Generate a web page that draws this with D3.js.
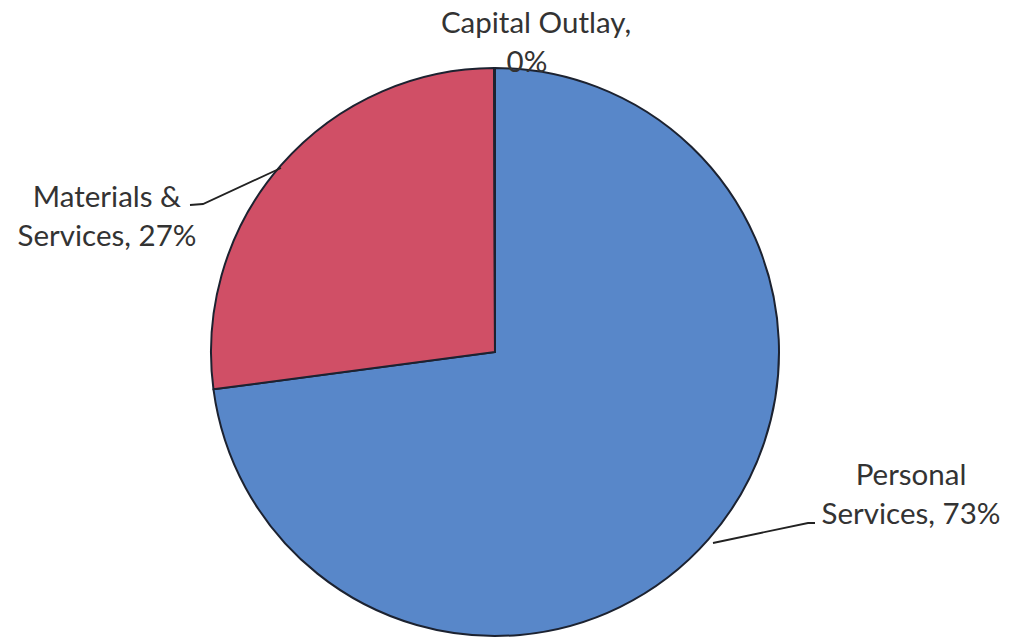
<!DOCTYPE html>
<html><head><meta charset="utf-8">
<script src="https://cdn.jsdelivr.net/npm/d3@7"></script>
<style>
html,body{margin:0;padding:0;background:#fff;}
svg text{font-family:Lato,"Open Sans",sans-serif;fill:#333;}
</style></head>
<body>
<svg id="chart" width="1010" height="643"></svg>
<script>
const categories = ["Personal Services", "Materials & Services", "Capital Outlay"];
const values = [72.9, 27.05, 0.05];
const labelLines = [["Personal", "Services, 73%"], ["Materials &", "Services, 27%"], ["Capital Outlay,", "0%"]];
const colors = ["#5887C9", "#D04F66", "#8FB35A"];

const svg = d3.select("#chart");
const cx = 495, cy = 352, r = 284;
const g = svg.append("g").attr("transform", `translate(${cx},${cy})`);

const pie = d3.pie().sort(null).value(d => d)(values);
const arc = d3.arc().innerRadius(0).outerRadius(r);

g.selectAll("path.slice").data(pie).join("path")
  .attr("class", "slice")
  .attr("d", arc)
  .attr("fill", (d, i) => colors[i])
  .attr("stroke", "#1c2230")
  .attr("stroke-width", 2)
  .attr("stroke-linejoin", "round");

// label layout (positions relative to the page)
const labelPos = [
  {x: 911, y: 485, lead: [[713, 543], [808, 523], [815, 523]]},
  {x: 107, y: 207, lead: [[190, 205], [203, 204], [281, 168]]},
  {x: 536, y: 33, lead: null}
];
const fs = 29.5, lh = 39;

labelPos.forEach((p, i) => {
  const t = svg.append("text").attr("text-anchor", "middle").attr("font-size", fs);
  labelLines[i].forEach((line, k) => {
    t.append("tspan").attr("x", i === 2 && k === 1 ? p.x - 9 : p.x).attr("y", p.y + k * lh).text(line);
  });
  if (p.lead) {
    svg.append("polyline")
      .attr("points", p.lead.map(q => q.join(",")).join(" "))
      .attr("fill", "none").attr("stroke", "#222").attr("stroke-width", 1.8);
  }
});
</script>
</body></html>
